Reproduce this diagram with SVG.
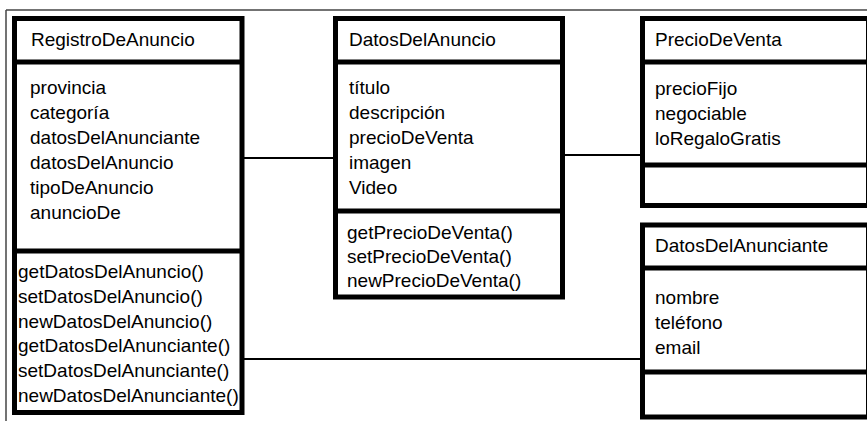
<svg xmlns="http://www.w3.org/2000/svg" width="867" height="421" viewBox="0 0 867 421">
<style>
.box{fill:#fff;stroke:#000;stroke-width:5}
.div{stroke:#000;stroke-width:5}
.conn{stroke:#000;stroke-width:2;fill:none}
.frame{stroke:#444;stroke-width:1.5;fill:none}
text{font-family:"Liberation Sans",Arial,sans-serif;font-size:19px;fill:#000}
</style>
<rect width="867" height="421" fill="#fff"/>
<g id="frame">
<line class="frame" x1="6" y1="10" x2="867" y2="10"/>
<line class="frame" x1="6" y1="10" x2="6" y2="421"/>
</g>
<g id="connectors">
<line class="conn" x1="242" y1="158" x2="335.5" y2="158"/>
<line class="conn" x1="562.5" y1="155" x2="642.5" y2="155"/>
<line class="conn" x1="242" y1="359" x2="642.5" y2="359"/>
</g>
<g id="RegistroDeAnuncio">
<rect class="box" x="14.5" y="18.5" width="227.5" height="394"/>
<line class="div" x1="14.5" y1="62" x2="242" y2="62"/>
<line class="div" x1="14.5" y1="251" x2="242" y2="251"/>
<text x="31" y="46">RegistroDeAnuncio</text>
<text x="30" y="94">provincia</text>
<text x="30" y="119">categoría</text>
<text x="30" y="144">datosDelAnunciante</text>
<text x="30" y="169">datosDelAnuncio</text>
<text x="30" y="194">tipoDeAnuncio</text>
<text x="30" y="219">anuncioDe</text>
<text x="18" y="278">getDatosDelAnuncio()</text>
<text x="18" y="303">setDatosDelAnuncio()</text>
<text x="18" y="328">newDatosDelAnuncio()</text>
<text x="18" y="352">getDatosDelAnunciante()</text>
<text x="18" y="377">setDatosDelAnunciante()</text>
<text x="18" y="402">newDatosDelAnunciante()</text>
</g>
<g id="DatosDelAnuncio">
<rect class="box" x="335.5" y="18.5" width="227" height="278.5"/>
<line class="div" x1="335.5" y1="62" x2="562.5" y2="62"/>
<line class="div" x1="335.5" y1="211" x2="562.5" y2="211"/>
<text x="349" y="46">DatosDelAnuncio</text>
<text x="349" y="94">título</text>
<text x="349" y="119">descripción</text>
<text x="349" y="144">precioDeVenta</text>
<text x="349" y="169">imagen</text>
<text x="349" y="194">Video</text>
<text x="347" y="239">getPrecioDeVenta()</text>
<text x="347" y="263">setPrecioDeVenta()</text>
<text x="347" y="287">newPrecioDeVenta()</text>
</g>
<g id="PrecioDeVenta">
<rect class="box" x="642.5" y="18.5" width="226" height="187"/>
<line class="div" x1="642.5" y1="62" x2="868.5" y2="62"/>
<line class="div" x1="642.5" y1="165" x2="868.5" y2="165"/>
<text x="655" y="46">PrecioDeVenta</text>
<text x="655" y="95">precioFijo</text>
<text x="655" y="120">negociable</text>
<text x="655" y="145">loRegaloGratis</text>
</g>
<g id="DatosDelAnunciante">
<rect class="box" x="642.5" y="225" width="226" height="192"/>
<line class="div" x1="642.5" y1="268" x2="868.5" y2="268"/>
<line class="div" x1="642.5" y1="372" x2="868.5" y2="372"/>
<text x="655" y="252">DatosDelAnunciante</text>
<text x="655" y="304">nombre</text>
<text x="655" y="329">teléfono</text>
<text x="655" y="354">email</text>
</g>
</svg>
